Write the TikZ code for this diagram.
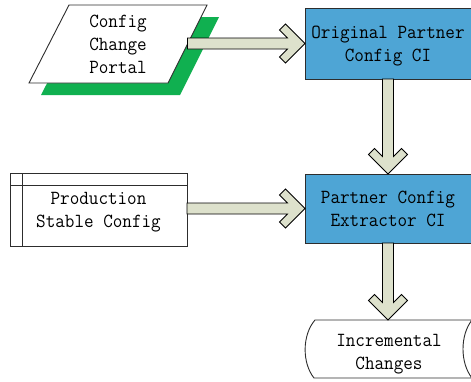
\documentclass[tikz,border=0pt]{standalone}
\usetikzlibrary{calc}

\definecolor{procblue}{RGB}{78,165,213}
\definecolor{portalgreen}{RGB}{16,176,80}
\definecolor{arrowfill}{RGB}{221,225,204}
\definecolor{edgegray}{RGB}{45,45,45}

% multi-line labels in a slightly condensed monospaced serif, ink set 2pt low
\newcommand\lbl[1]{\raisebox{-2pt}[\height][\depth]{\scalebox{0.93}[1]{\begin{tabular}{@{}c@{}}#1\end{tabular}}}}

% block arrow geometry: shaft half width, arm offset, arm reach
\def\ah{5.5pt}
\def\ac{6pt}
\def\al{19.5pt}

% horizontal block arrow, tip on the target point
\newcommand\blockright[2]{%
  \draw[blockarrow] let \p1=(#1), \p2=(#2) in
    (\x1,\y2+\ah) -- (\x2-2*\ac-\ah,\y2+\ah) -- (\x2-\al-\ac,\y2+\al-\ac)
    -- (\x2-\al,\y2+\al) -- (\x2,\y2) -- (\x2-\al,\y2-\al)
    -- (\x2-\al-\ac,\y2-\al+\ac) -- (\x2-2*\ac-\ah,\y2-\ah) -- (\x1,\y2-\ah) -- cycle;}

% downward block arrow, tip on the target point
\newcommand\blockdown[2]{%
  \draw[blockarrow] let \p1=(#1), \p2=(#2) in
    (\x2-\ah,\y1) -- (\x2-\ah,\y2+2*\ac+\ah) -- (\x2-\al+\ac,\y2+\al+\ac)
    -- (\x2-\al,\y2+\al) -- (\x2,\y2) -- (\x2+\al,\y2+\al)
    -- (\x2+\al-\ac,\y2+\al+\ac) -- (\x2+\ah,\y2+2*\ac+\ah) -- (\x2+\ah,\y1) -- cycle;}

\tikzset{
  x=1pt, y=-1pt,
  every node/.style={font=\fontsize{20}{23}\selectfont\ttfamily, inner sep=0pt, outer sep=0pt},
  blockarrow/.style={fill=arrowfill, draw=black, line width=0.8pt, line join=miter},
  procbox/.style={rectangle, fill=procblue, draw=edgegray, line width=0.9pt, minimum width=166pt},
  storebox/.style={rectangle, fill=white, draw=edgegray, line width=0.9pt},
  outline/.style={draw=edgegray, line width=0.9pt, fill=white},
}

\begin{document}
\begin{tikzpicture}
\useasboundingbox (0,0) rectangle (471,381);

% portal: slanted input shape with a solid green offset shadow
\fill[portalgreen] (81,17) -- (219,17) -- (180,95) -- (41,95) -- cycle;
\draw[outline] (69,5) -- (207,5) -- (168,83) -- (29,83) -- cycle;
\node (portal) at (118,44) {\lbl{Config\\Change\\Portal}};
\coordinate (portalR) at (187.5,44);

% production config store
\node[storebox, minimum width=177pt, minimum height=73pt] (prod) at (98.5,209.5)
  {\lbl{Production\\Stable Config}};
\draw[edgegray, line width=0.9pt]
  ([xshift=12pt]prod.north west) -- ([xshift=12pt]prod.south west)
  ([yshift=-12pt]prod.north west) -- ([yshift=-12pt]prod.north east);

% processes
\node[procbox, minimum height=71pt] (orig) at (388,43.5) {\lbl{Original Partner\\Config CI}};
\node[procbox, minimum height=69pt] (extr) at (388,208.5) {\lbl{Partner Config\\Extractor CI}};

% stored output
\node[minimum width=168pt, minimum height=58pt] (inc) at (388,349) {};
\draw[outline]
  ([xshift=11pt]inc.north west) -- (inc.north east)
  .. controls ([xshift=-12pt,yshift=-15pt]inc.north east) and ([xshift=-12pt,yshift=15pt]inc.south east) .. (inc.south east)
  -- ([xshift=10pt]inc.south west)
  .. controls ([xshift=-2pt,yshift=15pt]inc.south west) and ([xshift=-2pt,yshift=-15pt]inc.north west) .. ([xshift=11pt]inc.north west)
  -- cycle;
\node (inclbl) at (389,351) {\lbl{Incremental\\Changes}};

% flow
\blockright{portalR}{orig.west}
\blockright{prod.east}{extr.west}
\blockdown{orig.south}{extr.north}
\blockdown{extr.south}{inc.north}
\end{tikzpicture}
\end{document}
